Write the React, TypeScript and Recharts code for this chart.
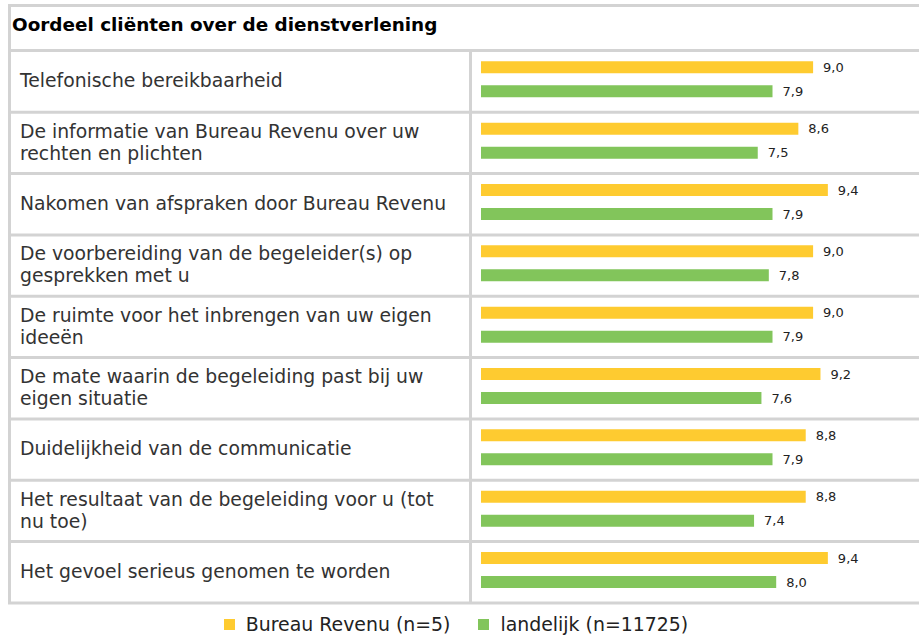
import React from 'react'
import { BarChart, Bar, XAxis, YAxis, Legend, LabelList } from 'recharts'

const categories = [
  'Telefonische bereikbaarheid',
  'De informatie van Bureau Revenu over uw rechten en plichten',
  'Nakomen van afspraken door Bureau Revenu',
  'De voorbereiding van de begeleider(s) op gesprekken met u',
  'De ruimte voor het inbrengen van uw eigen ideeën',
  'De mate waarin de begeleiding past bij uw eigen situatie',
  'Duidelijkheid van de communicatie',
  'Het resultaat van de begeleiding voor u (tot nu toe)',
  'Het gevoel serieus genomen te worden',
]
const bureauRevenu = [9.0, 8.6, 9.4, 9.0, 9.0, 9.2, 8.8, 8.8, 9.4]
const landelijk = [7.9, 7.5, 7.9, 7.8, 7.9, 7.6, 7.9, 7.4, 8.0]
const seriesNames = ['Bureau Revenu (n=5)', 'landelijk (n=11725)']

const data = categories.map((name, i) => ({
  name,
  bureau: bureauRevenu[i],
  landelijk: landelijk[i],
}))

const FONT = '"DejaVu Sans", Verdana, sans-serif'
const YELLOW = '#FECB30'
const GREEN = '#82C55B'
const BORDER = '#D3D3D3'

// simple word wrap for the row labels
const wrap = (text: string, max = 45) => {
  const lines: string[] = []
  let cur = ''
  text.split(' ').forEach((w) => {
    const next = cur ? cur + ' ' + w : w
    if (next.length > max && cur) {
      lines.push(cur)
      cur = w
    } else cur = next
  })
  if (cur) lines.push(cur)
  return lines
}

const CategoryTick = (props: any) => {
  const { y, payload } = props
  const lines = wrap(payload.value)
  return (
    <g>
      {lines.map((l, i) => (
        <text
          key={i}
          x={20}
          y={y + 2 + (i - (lines.length - 1) / 2) * 22}
          dominantBaseline="central"
          fontSize={18.8}
          fontFamily={FONT}
          fill="#333"
        >
          {l}
        </text>
      ))}
      <line x1={8} x2={930} y1={y + 33.3} y2={y + 33.3} stroke={BORDER} strokeWidth={3} />
    </g>
  )
}

const fmt = (v: any) => Number(v).toFixed(1).replace('.', ',')

const LegendContent = () => (
  <div style={{ height: 37, display: 'flex', justifyContent: 'center', alignItems: 'flex-end', fontFamily: FONT, fontSize: 18.9, color: '#222' }}>
    {[YELLOW, GREEN].map((c, i) => (
      <div key={i} style={{ display: 'flex', alignItems: 'center', marginRight: i === 0 ? 28 : 0, height: 26 }}>
        <span style={{ width: 11, height: 11, background: c, display: 'inline-block', marginRight: 11 }} />
        <span>{seriesNames[i]}</span>
      </div>
    ))}
  </div>
)

export default function App() {
  return (
    <div style={{ position: 'absolute', left: 0, top: 0, width: 919, height: 637, overflow: 'hidden', background: '#fff' }}>
      <div style={{ position: 'absolute', left: 8, top: 4, width: 930, height: 600, borderLeft: `3px solid ${BORDER}`, borderTop: `3px solid ${BORDER}`, boxSizing: 'border-box' }} />
      <div style={{ position: 'absolute', left: 11, top: 7, width: 920, height: 45, paddingBottom: 7, boxSizing: 'border-box', borderBottom: `3px solid ${BORDER}`, fontFamily: FONT, fontWeight: 'bold', fontSize: 18.4, color: '#000', display: 'flex', alignItems: 'center', paddingLeft: 1 }}>
        Oordeel cliënten over de dienstverlening
      </div>
      <div style={{ position: 'absolute', left: 469, top: 50, width: 3, height: 553, background: BORDER }} />
      <div style={{ position: 'absolute', left: 0, top: 0 }}>
        <BarChart
          width={919}
          height={637}
          data={data}
          layout="vertical"
          margin={{ top: 48.3, right: 69, left: 0, bottom: 0 }}
          barGap={12}
        >
          <XAxis type="number" domain={[0, 10]} hide padding={{ left: 10, right: 0 }} />
          <YAxis
            type="category"
            dataKey="name"
            width={471}
            axisLine={false}
            tickLine={false}
            interval={0}
            tick={CategoryTick}
          />
          <Legend verticalAlign="bottom" content={LegendContent} wrapperStyle={{ height: 36.7, left: 0, width: 912 }} />
          <Bar dataKey="bureau" name={seriesNames[0]} fill={YELLOW} barSize={12} isAnimationActive={false}>
            <LabelList dataKey="bureau" position="right" offset={10} formatter={fmt} style={{ fontSize: 13, fill: '#222', fontFamily: FONT }} />
          </Bar>
          <Bar dataKey="landelijk" name={seriesNames[1]} fill={GREEN} barSize={12} isAnimationActive={false}>
            <LabelList dataKey="landelijk" position="right" offset={10} formatter={fmt} style={{ fontSize: 13, fill: '#222', fontFamily: FONT }} />
          </Bar>
        </BarChart>
      </div>
    </div>
  )
}
